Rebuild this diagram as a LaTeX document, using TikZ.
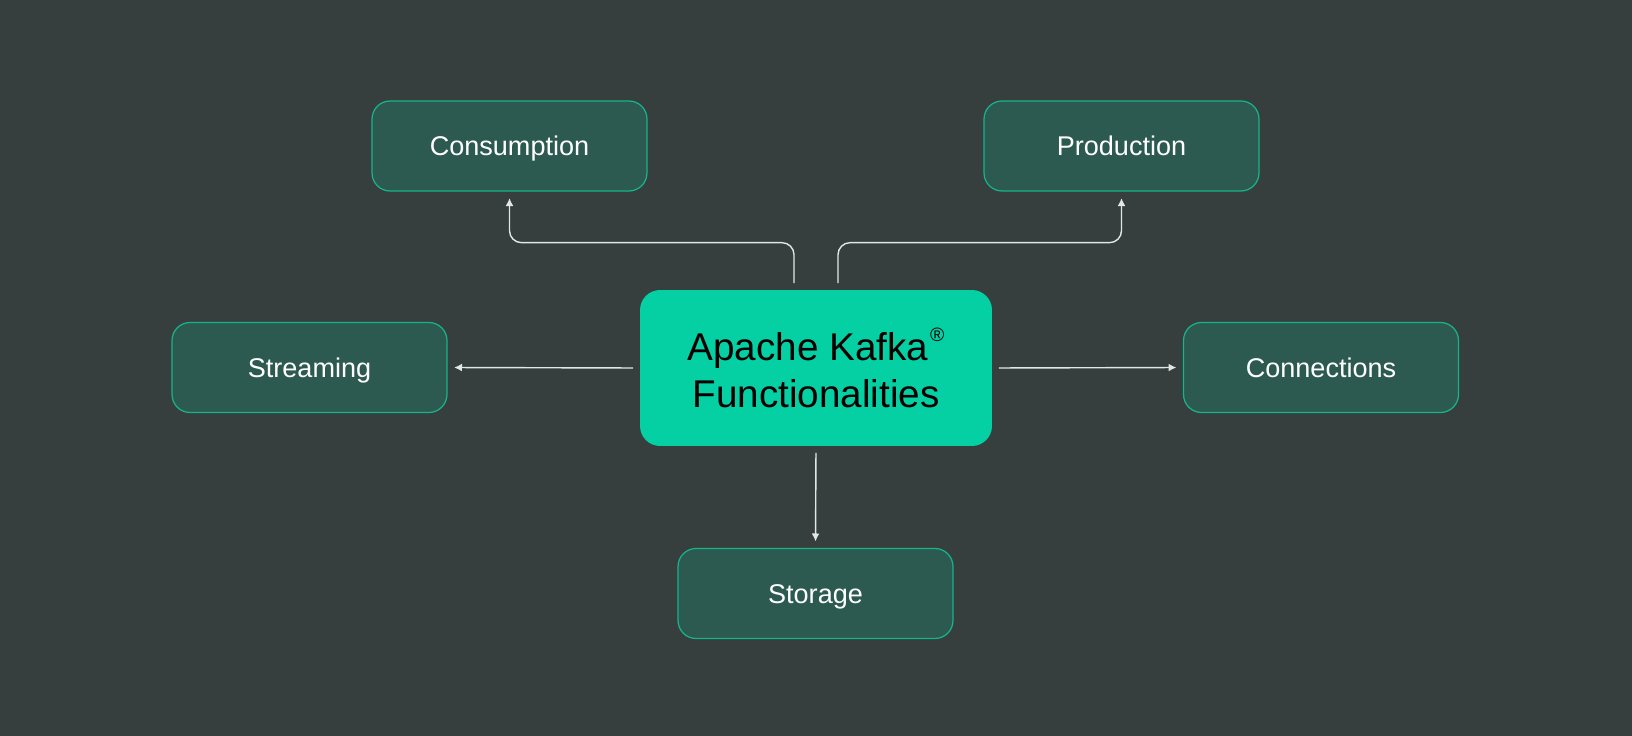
\documentclass[tikz,border=0pt]{standalone}
\usepackage{fontspec}
\setmainfont{Liberation Sans}
\usetikzlibrary{arrows.meta}
\definecolor{bgcol}{HTML}{363F3E}
\definecolor{boxfill}{HTML}{2C5A50}
\definecolor{boxline}{HTML}{16B48B}
\definecolor{kafkacol}{HTML}{05D0A4}
\definecolor{linecol}{HTML}{E4E6E5}
\tikzset{
  func/.style={draw=boxline,fill=boxfill,line width=0.7pt,rounded corners=0.36cm,minimum width=5.5cm,minimum height=1.8cm,text=white,text height=11pt,text depth=0pt,font=\fontsize{15.4}{18}\selectfont},
  core/.style={fill=kafkacol,rounded corners=0.4cm,minimum width=7.04cm,minimum height=3.12cm,text=black,align=center,font=\fontsize{22}{27}\selectfont},
  conn/.style={draw=linecol,line width=0.8pt,-{Latex[length=4.5pt,width=4.5pt]},shorten <=0.13cm,shorten >=0.13cm}
}
\newcommand{\regmark}{\kern1pt\raisebox{10.5pt}{\fontsize{11}{11}\selectfont ®}}
\begin{document}
\begin{tikzpicture}[x=0.02cm,y=-0.02cm]
        \fill[bgcol](0,0)rectangle(1632,736);
        \node[core](kafka) at(816,368){Apache Kafka\regmark\\Functionalities};
        \node[func](cons) at(509.5,146){Consumption};
        \node[func](prod) at(1121.5,146){Production};
        \node[func](stream) at(309.5,367.5){Streaming};
        \node[func](conns) at(1321,367.5){Connections};
        \node[func](store) at(815.5,593.5){Storage};
        \draw[conn,rounded corners=0.24cm]([xshift=-0.44cm]kafka.north)--++(0,0.94cm)-|(cons.south);
        \draw[conn,rounded corners=0.24cm]([xshift=0.44cm]kafka.north)--++(0,0.94cm)-|(prod.south);
        \draw[conn](kafka.west)--(stream.east);
        \draw[conn](kafka.east)--(conns.west);
        \draw[conn](kafka.south)--(store.north);
      \end{tikzpicture}
\end{document}
